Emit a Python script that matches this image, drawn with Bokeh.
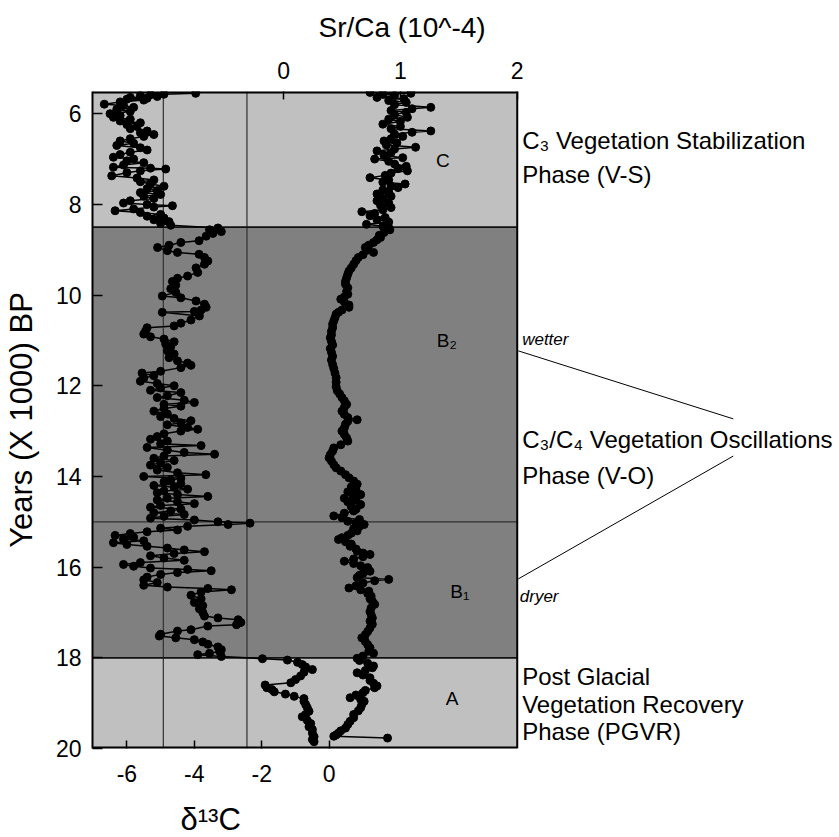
from bokeh.plotting import figure
from bokeh.models import Range1d, LinearAxis, FixedTicker, Label, Title
from bokeh.embed import file_html
from bokeh.resources import INLINE

# ---------------- data ----------------
years_d13c = [
    5.55, 5.57, 5.58, 5.60, 5.62, 5.64, 5.66, 5.68, 5.70, 5.74, 5.79, 5.82, 5.86, 5.90, 5.95,
    6.00, 6.04, 6.08, 6.12, 6.16, 6.20, 6.24, 6.28, 6.33, 6.38, 6.42, 6.46, 6.50, 6.55, 6.60,
    6.65, 6.70, 6.75, 6.80, 6.85, 6.90, 6.96, 7.00, 7.04, 7.08, 7.13, 7.18, 7.20, 7.22, 7.26,
    7.30, 7.37, 7.42, 7.46, 7.50, 7.55, 7.60, 7.65, 7.70, 7.74, 7.78, 7.82, 7.87, 7.92, 7.97,
    8.00, 8.03, 8.06, 8.10, 8.14, 8.18, 8.22, 8.26, 8.30, 8.34, 8.38, 8.42, 8.46,
    8.52, 8.56, 8.60, 8.64, 8.70, 8.80, 8.84, 8.90, 8.95, 9.02, 9.06, 9.10, 9.17, 9.25, 9.32,
    9.40, 9.50, 9.58, 9.63, 9.70, 9.78, 9.86, 9.94, 10.02, 10.06, 10.13, 10.20, 10.27, 10.33,
    10.36, 10.38, 10.46, 10.55, 10.62, 10.68, 10.72, 10.80, 10.86, 10.92, 10.97, 11.03, 11.08,
    11.14, 11.23, 11.30, 11.38, 11.45, 11.50, 11.55, 11.60, 11.68, 11.72, 11.78, 11.83, 11.90,
    11.95, 12.00, 12.05, 12.10, 12.15, 12.22, 12.26, 12.32, 12.37, 12.41, 12.45, 12.50, 12.56,
    12.62, 12.68, 12.72, 12.77, 12.82, 12.86, 12.92, 12.96, 13.00, 13.06, 13.12, 13.18, 13.22,
    13.28, 13.32, 13.36, 13.42, 13.47, 13.51, 13.55, 13.60, 13.65, 13.70, 13.75, 13.80, 13.86,
    13.92, 13.96, 14.00, 14.04, 14.08, 14.12, 14.16, 14.20, 14.24, 14.28, 14.32, 14.36, 14.40,
    14.44, 14.48, 14.52, 14.56, 14.60, 14.64, 14.68, 14.72, 14.76, 14.80, 14.84, 14.88, 14.92,
    14.96, 15.00, 15.03, 15.06, 15.10, 15.14, 15.18, 15.22, 15.26, 15.30, 15.34, 15.38, 15.42,
    15.46, 15.50, 15.54, 15.58, 15.62, 15.66, 15.70, 15.75, 15.80, 15.85, 15.90, 15.94, 15.98,
    16.02, 16.05, 16.08, 16.12, 16.16, 16.22, 16.28, 16.34, 16.40, 16.44, 16.47, 16.50, 16.55,
    16.62, 16.70, 16.78, 16.85, 16.92, 17.00, 17.08, 17.12, 17.16, 17.22, 17.27, 17.30, 17.38,
    17.41, 17.48, 17.52, 17.56, 17.60, 17.65, 17.70, 17.76, 17.82, 17.86, 17.90, 17.93, 17.97,
    18.02, 18.05, 18.10, 18.15, 18.20, 18.26, 18.32, 18.40, 18.48, 18.55, 18.60, 18.66, 18.70,
    18.75, 18.80, 18.85, 18.90, 18.96, 19.03, 19.10, 19.18, 19.25, 19.30, 19.38, 19.45, 19.52,
    19.58, 19.66, 19.74, 19.80, 19.85,
]
d13c = [
    -3.96, -4.90, -5.30, -5.60, -5.10, -5.90, -5.40, -6.00, -5.50, -6.20, -6.67, -6.10, -5.80, -6.30, -5.90,
    -6.50, -6.20, -6.40, -5.90, -6.20, -5.60, -6.00, -5.70, -5.90, -5.40, -5.60, -5.20, -5.50, -5.90, -6.20,
    -5.80, -6.30, -5.60, -5.40, -5.90, -6.20, -6.40, -5.80, -6.00, -5.50, -6.10, -6.40, -5.30, -4.85, -5.60,
    -6.00, -6.45, -5.70, -5.20, -5.60, -5.30, -4.90, -5.40, -5.10, -5.60, -5.00, -5.50, -5.20, -5.90, -6.10,
    -5.40, -4.65, -5.20, -5.80, -6.35, -5.60, -5.00, -5.40, -4.90, -5.20, -4.75, -5.00, -4.70,
    -3.30, -3.55, -3.20, -3.45, -3.65, -3.86, -4.40, -4.75, -5.09, -4.80, -4.50, -3.86, -3.70, -3.60, -3.70,
    -3.95, -3.90, -4.20, -4.50, -4.65, -4.55, -4.70, -4.55, -4.95, -4.40, -3.95, -3.70, -3.65, -3.80,
    -4.00, -4.95, -3.85, -4.10, -4.40, -4.60, -5.40, -5.45, -5.50, -5.30, -4.90, -4.60, -4.85,
    -4.70, -4.80, -4.60, -4.75, -4.50, -4.20, -4.10, -4.40, -5.00, -5.55, -5.20, -5.50, -5.60,
    -5.10, -4.60, -5.00, -5.30, -4.40, -4.80, -5.10, -4.30, -4.00, -4.90, -4.40, -4.90, -5.20,
    -4.80, -5.00, -4.60, -4.10, -4.40, -4.80, -4.20, -3.90, -4.40, -4.90, -5.10, -5.30, -4.80,
    -5.00, -3.80, -5.40, -4.80, -4.30, -3.40, -4.90, -5.20, -4.60, -5.00, -5.30, -4.80, -5.10,
    -4.50, -3.66, -5.50, -4.40, -4.70, -4.90, -4.40, -5.20, -4.60, -4.20, -4.90, -5.10, -4.50,
    -3.60, -4.80, -5.10, -4.50, -4.00, -5.00, -5.30, -4.40, -4.70, -5.20, -4.30, -4.90, -5.30,
    -4.00, -3.30, -2.35, -3.00, -4.20, -5.00, -4.50, -5.40, -5.90, -6.35, -5.80, -6.10, -5.50,
    -6.40, -6.00, -5.40, -4.80, -4.30, -3.70, -4.60, -5.30, -4.90, -4.30, -5.60, -6.10, -5.80,
    -5.30, -4.20, -3.50, -4.50, -5.00, -5.40, -5.50, -5.10, -5.50, -4.80, -3.60, -2.90, -3.80,
    -4.10, -3.80, -4.00, -3.75, -3.85, -3.75, -3.70, -3.30, -2.70, -2.62, -2.75, -3.60, -4.10,
    -4.50, -5.00, -5.04, -4.55, -4.00, -3.75, -3.60, -3.30, -3.20, -3.25, -3.55, -3.90, -3.20,
    -1.98, -1.24, -0.94, -0.80, -0.70, -0.50, -0.75, -0.85, -1.00, -1.14, -1.90, -1.85, -1.70,
    -1.63, -1.30, -1.04, -0.75, -0.75, -0.70, -0.65, -0.60, -0.70, -0.80, -0.65, -0.55, -0.60,
    -0.50, -0.50, -0.45, -0.50, -0.45,
]

years_srca = [
    5.53, 5.55, 5.57, 5.60, 5.64, 5.67, 5.71, 5.75, 5.80, 5.86, 5.89, 5.93, 5.97, 6.02, 6.08,
    6.12, 6.17, 6.23, 6.28, 6.33, 6.38, 6.41, 6.45, 6.50, 6.55, 6.60, 6.64, 6.69, 6.74, 6.78,
    6.82, 6.86, 6.92, 6.97, 7.00, 7.05, 7.11, 7.16, 7.21, 7.26, 7.31, 7.36, 7.41, 7.46, 7.51,
    7.55, 7.60, 7.63, 7.68, 7.73, 7.77, 7.82, 7.87, 7.92, 7.97, 8.02, 8.07, 8.12, 8.16, 8.20,
    8.25, 8.29, 8.34, 8.39, 8.44, 8.48, 8.51, 8.56, 8.62, 8.68, 8.73, 8.78, 8.84, 8.90, 8.95,
    9.00, 9.06, 9.11, 9.17, 9.24, 9.32, 9.40, 9.47, 9.54, 9.62, 9.70, 9.76, 9.84, 9.92, 9.98,
    10.04, 10.09, 10.15, 10.22, 10.27, 10.33, 10.38, 10.42, 10.50, 10.57, 10.64, 10.72, 10.80,
    10.88, 10.94, 11.02, 11.10, 11.18, 11.26, 11.35, 11.43, 11.53, 11.62, 11.72, 11.82, 11.92,
    12.02, 12.11, 12.18, 12.26, 12.33, 12.41, 12.48, 12.56, 12.63, 12.70, 12.75, 12.78, 12.85,
    12.93, 13.00, 13.07, 13.15, 13.22, 13.30, 13.37, 13.44, 13.52, 13.59, 13.66, 13.74, 13.81,
    13.88, 13.96, 14.03, 14.10, 14.17, 14.23, 14.29, 14.34, 14.40, 14.44, 14.48, 14.52, 14.56,
    14.62, 14.67, 14.72, 14.76, 14.81, 14.87, 14.91, 14.95, 14.99, 15.03, 15.06, 15.10, 15.15,
    15.20, 15.25, 15.30, 15.35, 15.39, 15.44, 15.49, 15.54, 15.60, 15.65, 15.69, 15.72, 15.77,
    15.82, 15.87, 15.92, 15.97, 16.01, 16.05, 16.09, 16.14, 16.18, 16.23, 16.27, 16.30, 16.35,
    16.41, 16.46, 16.50, 16.53, 16.58, 16.64, 16.70, 16.75, 16.82, 16.90, 16.98, 17.05, 17.12,
    17.19, 17.26, 17.34, 17.42, 17.49, 17.56, 17.64, 17.71, 17.78, 17.85, 17.90, 17.96, 18.01,
    18.06, 18.12, 18.18, 18.22, 18.28, 18.33, 18.38, 18.44, 18.50, 18.56, 18.62, 18.66, 18.72,
    18.77, 18.82, 18.88, 18.92, 18.96, 19.03, 19.10, 19.17, 19.25, 19.32, 19.40, 19.47, 19.55,
    19.61, 19.66, 19.70, 19.73, 19.77,
]
srca = [
    0.74, 1.09, 0.85, 0.95, 0.80, 1.03, 0.90, 1.05, 0.95, 1.26, 1.10, 0.92, 1.05, 0.95, 1.06,
    0.90, 1.00, 0.85, 1.00, 0.92, 1.26, 1.10, 0.95, 1.02, 0.92, 0.86, 0.97, 0.88, 1.13, 0.95,
    0.80, 0.92, 0.86, 1.02, 0.78, 0.90, 0.95, 1.05, 0.98, 1.06, 0.92, 0.87, 0.74, 0.90, 0.85,
    1.04, 0.92, 0.98, 0.85, 0.90, 0.80, 0.92, 0.85, 0.80, 0.90, 0.83, 0.92, 0.85, 0.67, 0.78,
    0.74, 0.87, 0.80, 0.90, 0.71, 0.85, 0.90, 0.91, 0.86, 0.82, 0.83, 0.80, 0.77, 0.73, 0.70,
    0.72, 0.77, 0.68, 0.64, 0.62, 0.60, 0.58, 0.56, 0.55, 0.54, 0.53, 0.53, 0.55, 0.54, 0.55,
    0.52, 0.49, 0.52, 0.56, 0.56, 0.50, 0.47, 0.45, 0.44, 0.43, 0.42, 0.42, 0.41,
    0.41, 0.40, 0.41, 0.42, 0.40, 0.41, 0.42, 0.41, 0.42, 0.43, 0.44, 0.45, 0.45,
    0.45, 0.46, 0.48, 0.50, 0.52, 0.54, 0.52, 0.50, 0.52, 0.55, 0.63, 0.55, 0.53,
    0.52, 0.50, 0.52, 0.54, 0.55, 0.49, 0.43, 0.42, 0.40, 0.39, 0.41, 0.43, 0.45,
    0.49, 0.53, 0.56, 0.60, 0.63, 0.58, 0.62, 0.55, 0.66, 0.60, 0.52, 0.62, 0.55,
    0.66, 0.58, 0.62, 0.60, 0.52, 0.43, 0.50, 0.65, 0.55, 0.62, 0.69, 0.65, 0.60,
    0.63, 0.58, 0.55, 0.50, 0.47, 0.53, 0.58, 0.57, 0.62, 0.63, 0.68, 0.74, 0.68,
    0.60, 0.52, 0.60, 0.66, 0.72, 0.70, 0.74, 0.68, 0.65, 0.63, 0.90, 0.78, 0.68,
    0.62, 0.56, 0.66, 0.73, 0.72, 0.75, 0.74, 0.76, 0.78, 0.75, 0.74, 0.75, 0.76,
    0.74, 0.76, 0.74, 0.72, 0.70, 0.67, 0.70, 0.72, 0.74, 0.73, 0.77, 0.68, 0.63,
    0.65, 0.72, 0.77, 0.76, 0.70, 0.63, 0.68, 0.74, 0.74, 0.77, 0.80, 0.78, 0.70,
    0.68, 0.62, 0.57, 0.66, 0.69, 0.67, 0.66, 0.64, 0.60, 0.60, 0.57, 0.55, 0.53,
    0.49, 0.47, 0.45, 0.43, 0.89,
]

year_ticks = [6, 8, 10, 12, 14, 16, 18, 20]
d13c_ticks = [-6, -4, -2, 0]
srca_ticks = [0, 1, 2]

# phase zones (years BP x1000) and their shading
zone_top = [5.51, 8.5, 18.0]
zone_bottom = [8.5, 18.0, 20.0]
zone_color = ["#c0c0c0", "#808080", "#c0c0c0"]
phase_lines = [8.5, 15.0, 18.0]
ref_d13c = [-4.92, -2.44]          # vertical reference lines (δ13C units)

Y_TOP, Y_BOTTOM = 5.51, 20.0
X_LEFT, X_RIGHT = -7.02, 15.13     # δ13C scale across the canvas
SR_LEFT, SR_RIGHT, SR_PLOT_END = -1.635, 4.758, 2.0

FONT = "Liberation Sans"
SPACER = "\u00a0"                  # invisible axis label used only to reserve room

p = figure(width=839, height=837, output_backend="svg", toolbar_location=None,
           x_range=Range1d(X_LEFT, X_RIGHT), y_range=Range1d(Y_BOTTOM, Y_TOP),
           min_border_left=92, min_border_right=0, min_border_top=91, min_border_bottom=89,
           background_fill_color="white", border_fill_color="white",
           outline_line_color=None)
p.extra_x_ranges = {"srca": Range1d(SR_LEFT, SR_RIGHT)}
p.grid.visible = False

# shaded phase zones
p.quad(left=[SR_LEFT] * 3, right=[SR_PLOT_END] * 3, top=zone_top, bottom=zone_bottom,
       fill_color=zone_color, line_color=None, x_range_name="srca")

# vertical reference lines
p.segment(x0=ref_d13c, x1=ref_d13c, y0=[Y_TOP] * 2, y1=[Y_BOTTOM] * 2,
          line_color="#303030", line_width=1.2)

# phase boundary lines
p.segment(x0=[SR_LEFT] * 3, x1=[SR_PLOT_END] * 3, y0=phase_lines, y1=phase_lines,
          line_color=["#111111", "#303030", "#111111"], line_width=[1.8, 1.2, 1.8],
          x_range_name="srca")

# frame border (top, bottom, right)
p.segment(x0=[SR_LEFT, SR_LEFT], x1=[SR_PLOT_END, SR_PLOT_END], y0=[Y_TOP, Y_BOTTOM],
          y1=[Y_TOP, Y_BOTTOM], line_color="black", line_width=4, x_range_name="srca")
p.segment(x0=[SR_PLOT_END], x1=[SR_PLOT_END], y0=[Y_TOP], y1=[Y_BOTTOM],
          line_color="black", line_width=2, x_range_name="srca")

# data series
p.line(d13c, years_d13c, line_color="black", line_width=1.5)
p.scatter(d13c, years_d13c, size=8, fill_color="black", line_color="black")
p.line(srca, years_srca, line_color="black", line_width=1.5, x_range_name="srca")
p.scatter(srca, years_srca, size=8, fill_color="black", line_color="black",
          x_range_name="srca")

# connectors to the oscillation phase text
p.segment(x0=[5.605, 5.605], y0=[11.23, 16.26], x1=[11.98, 11.98], y1=[12.73, 13.55],
          line_color="black", line_width=1)

# axes
def style_axis(ax, tick_in):
    ax.major_tick_in = tick_in
    ax.major_tick_out = 0
    ax.minor_tick_in = 0
    ax.minor_tick_out = 0
    ax.major_tick_line_width = 1.5
    ax.major_tick_line_color = "black"
    ax.major_label_text_font = FONT
    ax.major_label_text_font_size = "23px"
    ax.major_label_text_color = "black"

def add_spacer(ax, px):
    ax.axis_label = SPACER
    ax.axis_label_text_font_size = "1px"
    ax.axis_label_standoff = px

xb = p.xaxis[0]
xb.ticker = FixedTicker(ticks=d13c_ticks)
xb.major_label_overrides = {t: str(t) for t in d13c_ticks}
xb.axis_line_color = None
style_axis(xb, 8)
xb.major_label_standoff = 16
add_spacer(xb, 11)

xt = LinearAxis(x_range_name="srca", ticker=FixedTicker(ticks=srca_ticks))
xt.axis_line_color = None
style_axis(xt, 8)
xt.major_label_standoff = 13
add_spacer(xt, 10)
p.add_layout(xt, "above")

yl = p.yaxis[0]
yl.ticker = FixedTicker(ticks=year_ticks)
yl.axis_line_width = 2
yl.axis_line_color = "black"
style_axis(yl, 10)
yl.major_label_standoff = 11
yl.axis_label = "Years (X 1000) BP"
yl.axis_label_text_font = FONT
yl.axis_label_text_font_size = "31px"
yl.axis_label_text_font_style = "normal"
yl.axis_label_text_color = "black"
yl.axis_label_standoff = 14

# axis titles, each centred over its own scale
p.add_layout(Title(text="Sr/Ca (10^-4)", align="left", offset=226, text_font=FONT,
                   text_font_size="28px", text_font_style="normal", text_color="black",
                   vertical_align="top", standoff=0), "above")
p.add_layout(Title(text="δ¹³C", align="left", offset=88, text_font=FONT,
                   text_font_size="31px", text_font_style="normal", text_color="black",
                   vertical_align="bottom", standoff=0), "below")

def add_label(text, x, y, size, align="left", style="normal"):
    p.add_layout(Label(x=x, y=y, text=text, text_font=FONT, text_font_size=size,
                       text_align=align, text_baseline="middle", text_font_style=style,
                       text_color="black"))

# zone letters
add_label("C", 3.37, 7.04, "19px", align="center")
add_label("B₂", 3.19, 11.0, "19px")
add_label("B₁", 3.59, 16.53, "19px")
add_label("A", 3.64, 18.89, "19px", align="center")

# phase descriptions
add_label("C₃ Vegetation Stabilization", 5.72, 6.60, "24px")
add_label("Phase (V-S)", 5.72, 7.35, "24px")
add_label("C₃/C₄ Vegetation Oscillations", 5.72, 13.18, "24px")
add_label("Phase (V-O)", 5.72, 13.97, "24px")
add_label("Post Glacial", 5.72, 18.41, "24px")
add_label("Vegetation Recovery", 5.72, 19.03, "24px")
add_label("Phase (PGVR)", 5.72, 19.63, "24px")
add_label("wetter", 5.72, 10.97, "17px", style="italic")
add_label("dryer", 5.65, 16.64, "17px", style="italic")

open("out.html", "w").write(file_html(p, INLINE))
